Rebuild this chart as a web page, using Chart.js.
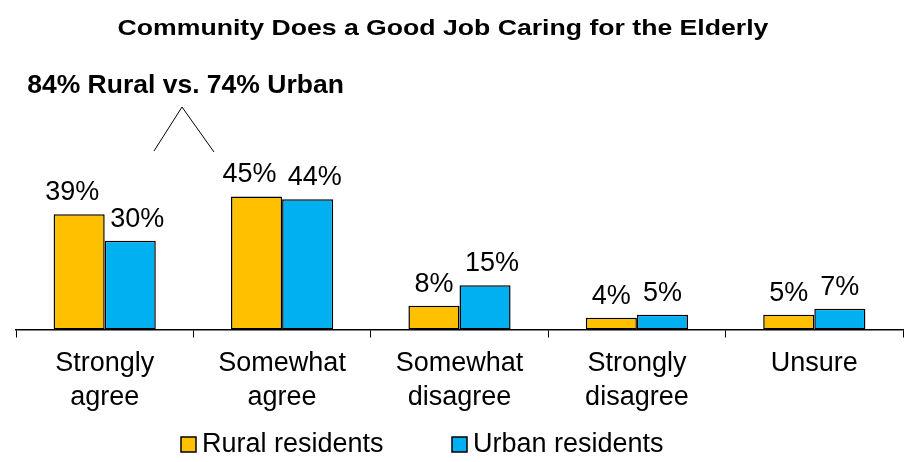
<!DOCTYPE html>
<html>
<head>
<meta charset="utf-8">
<script src="https://cdn.jsdelivr.net/npm/chart.js@4"></script>
<style>
  html, body { margin: 0; padding: 0; background: #fff; }
  #wrap { width: 913px; height: 462px; }
</style>
</head>
<body>
<div id="wrap"><canvas id="myChartBar"></canvas></div>
<script>
const categories = [['Strongly', 'agree'], ['Somewhat', 'agree'], ['Somewhat', 'disagree'], ['Strongly', 'disagree'], ['Unsure']];
const rural = [39, 45, 8, 4, 5];
const urban = [30, 44, 15, 5, 7];
const seriesNames = ['Rural residents', 'Urban residents'];
const chartTitle = 'Community Does a Good Job Caring for the Elderly';
const callout = '84% Rural vs. 74% Urban';

const FONT = "'Liberation Sans', Arial, sans-serif";

// percent labels above each bar, nudged outward when wider than the bar
const barLabels = {
  id: 'barLabels',
  afterDatasetsDraw(chart) {
    const ctx = chart.ctx;
    ctx.save();
    ctx.font = '27px ' + FONT;
    ctx.fillStyle = '#000';
    ctx.textAlign = 'center';
    ctx.textBaseline = 'alphabetic';
    chart.data.datasets.forEach((ds, di) => {
      chart.getDatasetMeta(di).data.forEach((bar, i) => {
        const txt = ds.data[i] + '%';
        const w = ctx.measureText(txt).width;
        let x = bar.x;
        if (w > bar.width) x += di === 0 ? -7 : 7;
        ctx.fillText(txt, x, bar.y - 14);
      });
    });
    ctx.restore();
  }
};

// title, callout with caret, and legend
const decorations = {
  id: 'decorations',
  afterDraw(chart) {
    const ctx = chart.ctx;
    ctx.save();
    ctx.fillStyle = '#000';
    ctx.textBaseline = 'alphabetic';

    ctx.font = 'bold 22px ' + FONT;
    ctx.textAlign = 'center';
    ctx.save();
    ctx.translate(443, 35);
    ctx.scale(1.21, 1);
    ctx.fillText(chartTitle, 0, 0);
    ctx.restore();

    ctx.font = 'bold 26.5px ' + FONT;
    ctx.fillText(callout, 185.5, 93);

    ctx.strokeStyle = '#000';
    ctx.lineWidth = 1;
    ctx.beginPath();
    ctx.moveTo(154, 151);
    ctx.lineTo(182, 107);
    ctx.lineTo(214, 152);
    ctx.stroke();

    ctx.font = '27px ' + FONT;
    ctx.textAlign = 'left';
    const legendX = [181, 452];
    chart.data.datasets.forEach((ds, di) => {
      const x = legendX[di];
      ctx.fillStyle = ds.backgroundColor;
      ctx.fillRect(x, 437, 15, 15);
      ctx.lineWidth = 1.5;
      ctx.strokeRect(x, 437, 15, 15);
      ctx.fillStyle = '#000';
      ctx.fillText(ds.label, x + 21, 452);
    });
    ctx.restore();
  }
};

const myChartBar = document.getElementById('myChartBar');
if (myChartBar) {
  new Chart(myChartBar, {
    type: 'bar',
    data: {
      labels: categories,
      datasets: [{
        label: seriesNames[0],
        data: rural,
        backgroundColor: '#FFC000',
        borderColor: '#000',
        borderWidth: 1.5,
        borderSkipped: false
      }, {
        label: seriesNames[1],
        data: urban,
        backgroundColor: '#00B0F0',
        borderColor: '#000',
        borderWidth: 1.5,
        borderSkipped: false
      }]
    },
    options: {
      responsive: true,
      maintainAspectRatio: false,
      animation: false,
      categoryPercentage: 0.576,
      barPercentage: 1,
      layout: {
        padding: { left: 16, right: 10, top: 152, bottom: 39 }
      },
      plugins: {
        legend: { display: false },
        title: { display: false },
        tooltip: { enabled: false }
      },
      scales: {
        x: {
          offset: true,
          grid: {
            offset: true,
            drawOnChartArea: false,
            drawTicks: true,
            tickLength: 8,
            color: '#000'
          },
          border: { color: '#000', width: 1.5 },
          ticks: {
            color: '#000',
            padding: 9,
            maxRotation: 0,
            autoSkip: false,
            font: { family: FONT, size: 27, lineHeight: 1.25 }
          }
        },
        y: {
          display: false,
          min: 0,
          max: 60
        }
      }
    },
    plugins: [barLabels, decorations]
  });
}
</script>
</body>
</html>
